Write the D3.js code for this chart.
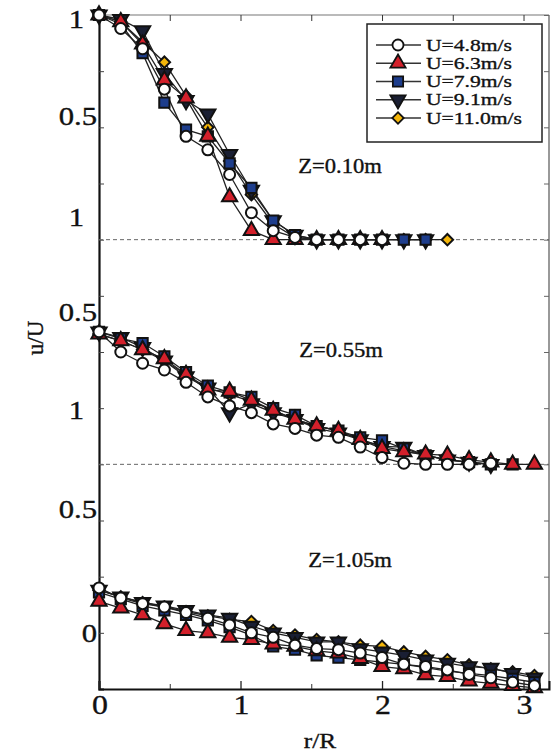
<!DOCTYPE html>
<html>
<head>
<meta charset="utf-8">
<script src="https://cdn.jsdelivr.net/npm/d3@7"></script>
<style>
  body { margin: 0; background: #fff; }
  text { font-family: "Liberation Serif", "DejaVu Serif", serif; fill: #111; stroke: #111; stroke-width: 0.35px; }
</style>
</head>
<body>
<div id="chart"></div>
<script>
var width = 551,
  height = 755;

// radial positions r/R (measuring step 2/13)
var rR = [0, 0.154, 0.308, 0.462, 0.615, 0.769, 0.923, 1.077, 1.231, 1.385, 1.538,
  1.692, 1.846, 2.0, 2.154, 2.308, 2.462, 2.615, 2.769, 2.923, 3.077];

var speeds = ["U=4.8m/s", "U=6.3m/s", "U=7.9m/s", "U=9.1m/s", "U=11.0m/s"];

// Z = 0.10 m
var z010_48 = [1, 0.94, 0.85, 0.67, 0.46, 0.40, 0.29, 0.12, 0.04, 0.01, 0, 0, 0, 0];
var z010_63 = [1, 0.97, 0.87, 0.71, 0.63, 0.46, 0.19, 0.04, 0, 0, 0, 0, 0, 0];
var z010_79 = [1, 0.96, 0.83, 0.61, 0.49, 0.46, 0.34, 0.23, 0.085, 0.02, 0, 0, 0, 0, 0, 0];
var z010_91 = [1, 0.98, 0.93, 0.74, 0.62, 0.56, 0.38, 0.22, 0.085, 0.02, 0, 0, 0, 0, 0, 0];
var z010_110 = [1, 0.97, 0.88, 0.79, 0.64, 0.50, 0.35, 0.20, 0.07, 0.01, 0, 0, 0, 0, 0, 0, 0];

// Z = 0.55 m
var z055_48 = [0.59, 0.50, 0.45, 0.42, 0.365, 0.30, 0.26, 0.23, 0.18, 0.16, 0.13, 0.12, 0.077, 0.03, 0.005, 0, 0, 0, 0.005];
var z055_63 = [0.58, 0.55, 0.51, 0.47, 0.40, 0.33, 0.325, 0.285, 0.24, 0.20, 0.17, 0.15, 0.11, 0.07, 0.055, 0.045, 0.04, 0.02, 0.01, 0, 0];
var z055_79 = [0.59, 0.56, 0.54, 0.48, 0.41, 0.35, 0.32, 0.30, 0.25, 0.22, 0.17, 0.15, 0.12, 0.107, 0.07, 0.04, 0.02, 0.01, 0, 0];
var z055_91 = [0.59, 0.565, 0.52, 0.46, 0.39, 0.34, 0.23, 0.27, 0.23, 0.20, 0.16, 0.14, 0.11, 0.08, 0.077, 0.04, 0.02, 0.01, 0];
var z055_110 = [0.58, 0.55, 0.51, 0.46, 0.40, 0.34, 0.31, 0.28, 0.24, 0.20, 0.17, 0.15, 0.11, 0.08, 0.06, 0.04, 0.02, 0.01, 0];

// Z = 1.05 m
var z105_48 = [0.45, 0.405, 0.38, 0.365, 0.34, 0.315, 0.285, 0.25, 0.23, 0.195, 0.18, 0.175, 0.16, 0.14, 0.11, 0.10, 0.085, 0.065, 0.05, 0.03, 0.015];
var z105_63 = [0.39, 0.36, 0.33, 0.29, 0.26, 0.25, 0.23, 0.22, 0.20, 0.19, 0.17, 0.16, 0.135, 0.10, 0.09, 0.063, 0.055, 0.035, 0.025, 0.015, 0.005];
var z105_79 = [0.43, 0.40, 0.37, 0.35, 0.33, 0.305, 0.275, 0.24, 0.19, 0.175, 0.15, 0.14, 0.13, 0.12, 0.11, 0.095, 0.08, 0.07, 0.06, 0.045, 0.03];
var z105_91 = [0.44, 0.41, 0.385, 0.37, 0.35, 0.33, 0.315, 0.28, 0.25, 0.23, 0.21, 0.21, 0.18, 0.165, 0.15, 0.13, 0.115, 0.10, 0.093, 0.07, 0.05];
var z105_110 = [0.44, 0.41, 0.385, 0.365, 0.345, 0.325, 0.31, 0.30, 0.26, 0.24, 0.22, 0.21, 0.195, 0.19, 0.165, 0.145, 0.13, 0.107, 0.09, 0.076, 0.06];

var panelNames = ["Z=0.10m", "Z=0.55m", "Z=1.05m"];
var panelBase = [2, 1, 0];

// stacked-axis tick labels as printed on the figure
var yLabelVals = [2.98, 2.55, 2.10, 1.68, 1.24, 0.80, 0.25];
var yLabelText = ["1", "0.5", "1", "0.5", "1", "0.5", "0"];
var xLabelVals = [0, 1, 2, 3];

var panels = [
  [z010_48, z010_63, z010_79, z010_91, z010_110],
  [z055_48, z055_63, z055_79, z055_91, z055_110],
  [z105_48, z105_63, z105_79, z105_91, z105_110]
];

var fills = ["#ffffff", "#d3202b", "#1d3d8c", "#1a1f33", "#f4b60a"];
var shapes = [d3.symbolCircle, d3.symbolTriangle, d3.symbolSquare, d3.symbolTriangle, d3.symbolSquare];
var sizes = [95, 100, 105, 100, 65];
var rotate = [0, 0, 0, 180, 45];

var svg = d3.select("#chart")
  .append("svg")
  .attr("width", width)
  .attr("height", height);

var x = d3.scaleLinear().domain([0, 3.18]).range([99, 549]);
var y = d3.scaleLinear().domain([0, 3]).range([689, 15]);

// frame
svg.append("line").attr("x1", x(0)).attr("x2", x(3.18)).attr("y1", y(3)).attr("y2", y(3))
  .attr("stroke", "#777").attr("stroke-width", 1.2);
svg.append("line").attr("x1", x(3.18)).attr("x2", x(3.18)).attr("y1", y(3)).attr("y2", y(0))
  .attr("stroke", "#555").attr("stroke-width", 1.2);

// inward ticks
var yTicks = d3.range(0, 3.01, 0.25);
svg.append("g").attr("transform", "translate(" + x(0) + ",0)")
  .call(d3.axisLeft(y).tickValues(yTicks).tickSize(-5).tickFormat(""))
  .call(function (g) { g.select(".domain").attr("stroke", "#111").attr("stroke-width", 2.2); })
  .call(function (g) { g.selectAll(".tick line").attr("stroke", "#444"); });
svg.append("g").attr("transform", "translate(" + x(3.18) + ",0)")
  .call(d3.axisRight(y).tickValues(yTicks).tickSize(-5).tickFormat(""))
  .call(function (g) { g.select(".domain").remove(); })
  .call(function (g) { g.selectAll(".tick line").attr("stroke", "#666"); });
svg.append("g").attr("transform", "translate(0," + y(0) + ")")
  .call(d3.axisBottom(x).tickValues([0, 1, 2, 3]).tickSize(-8).tickFormat(""))
  .call(function (g) { g.select(".domain").attr("stroke", "#111").attr("stroke-width", 2); })
  .call(function (g) { g.selectAll(".tick line").attr("stroke", "#222").attr("stroke-width", 1.3); });
svg.append("g").attr("transform", "translate(0," + y(0) + ")")
  .call(d3.axisBottom(x).tickValues([0.5, 1.5, 2.5]).tickSize(-5).tickFormat(""))
  .call(function (g) { g.select(".domain").remove(); })
  .call(function (g) { g.selectAll(".tick line").attr("stroke", "#333"); });
svg.append("g").attr("transform", "translate(0," + y(3) + ")")
  .call(d3.axisTop(x).tickValues([0.5, 1, 1.5, 2, 2.5, 3]).tickSize(-6).tickFormat(""))
  .call(function (g) { g.select(".domain").remove(); })
  .call(function (g) { g.selectAll(".tick line").attr("stroke", "#333"); });

// dashed zero lines between panels
svg.selectAll("line.zero")
  .data([2, 1])
  .enter()
  .append("line")
  .attr("class", "zero")
  .attr("x1", x(0)).attr("x2", x(3.18))
  .attr("y1", function (d) { return y(d); })
  .attr("y2", function (d) { return y(d); })
  .attr("stroke", "#666")
  .attr("stroke-width", 1)
  .attr("stroke-dasharray", "4,3");

// tick labels
svg.selectAll("text.ylab")
  .data(yLabelVals)
  .enter()
  .append("text")
  .attr("class", "ylab")
  .attr("transform", function (d, i) {
    var xr = yLabelText[i] === "1" ? 84 : 97;
    return "translate(" + xr + "," + (y(d) + 9) + ") scale(1.18,1)";
  })
  .attr("text-anchor", "end")
  .style("font-size", "26px")
  .text(function (d, i) { return yLabelText[i]; });

svg.selectAll("text.xlab")
  .data(xLabelVals)
  .enter()
  .append("text")
  .attr("class", "xlab")
  .attr("transform", function (d) { return "translate(" + (x(d) + 1) + ",714) scale(1.18,1)"; })
  .attr("text-anchor", "middle")
  .style("font-size", "27px")
  .text(function (d) { return d; });

svg.append("text")
  .attr("transform", "translate(320,748) scale(1.15,1)")
  .attr("text-anchor", "middle")
  .style("font-size", "22px")
  .text("r/R");

svg.append("text")
  .attr("transform", "translate(43,338) rotate(-90)")
  .attr("text-anchor", "middle")
  .style("font-size", "23px")
  .text("u/U");

// panel titles
var titleY = [173, 357, 567];
var titleX = [340, 341, 350];
svg.selectAll("text.ztitle")
  .data(panelNames)
  .enter()
  .append("text")
  .attr("class", "ztitle")
  .attr("transform", function (d, i) { return "translate(" + titleX[i] + "," + titleY[i] + ") scale(1.13,1)"; })
  .attr("text-anchor", "middle")
  .style("font-size", "20px")
  .text(function (d) { return d; });

// lines then markers; slowest speed drawn last so it sits on top
var line = d3.line()
  .x(function (d, i) { return x(rR[i]); });

panels.forEach(function (series, p) {
  var g = svg.append("g");
  line.y(function (d) { return y(d + panelBase[p]); });
  series.forEach(function (vals) {
    g.append("path")
      .attr("d", line(vals))
      .attr("fill", "none")
      .attr("stroke", "#222")
      .attr("stroke-width", 1.3);
  });
  for (var s = series.length - 1; s >= 0; s--) {
    g.selectAll(null)
      .data(series[s])
      .enter()
      .append("path")
      .attr("d", d3.symbol().type(shapes[s]).size(sizes[s]))
      .attr("transform", function (d, i) {
        return "translate(" + x(rR[i]) + "," + y(d + panelBase[p]) + ") rotate(" + rotate[s] + ")";
      })
      .attr("fill", fills[s])
      .attr("stroke", "#111")
      .attr("stroke-width", 2);
  }
});

// legend
var lg = svg.append("g");
lg.append("rect")
  .attr("x", 367).attr("y", 24).attr("width", 175).attr("height", 118)
  .attr("fill", "#fff").attr("stroke", "#222").attr("stroke-width", 1.5);
var rowY = d3.scalePoint().domain(speeds).range([45, 118]);
speeds.forEach(function (name, s) {
  lg.append("line")
    .attr("x1", 376).attr("x2", 421)
    .attr("y1", rowY(name)).attr("y2", rowY(name))
    .attr("stroke", "#333").attr("stroke-width", 1.3);
  lg.append("path")
    .attr("d", d3.symbol().type(shapes[s]).size(sizes[s]))
    .attr("transform", "translate(398," + rowY(name) + ") rotate(" + rotate[s] + ")")
    .attr("fill", fills[s])
    .attr("stroke", "#111")
    .attr("stroke-width", 1.8);
  lg.append("text")
    .attr("transform", "translate(426," + (rowY(name) + 5.5) + ") scale(1.27,1)")
    .style("font-size", "17px")
    .text(name);
});
</script>
</body>
</html>
